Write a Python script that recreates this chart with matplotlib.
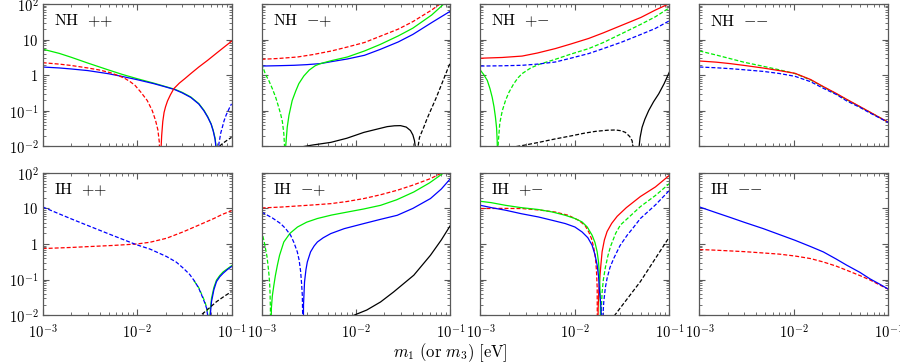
import matplotlib
matplotlib.use("Agg")
import matplotlib.pyplot as plt
from matplotlib.ticker import FixedLocator, LogLocator, NullFormatter

# ================= Data =================
# every curve: x = m_1 (or m_3) in eV, y = |value|; DIP marks a zero crossing
DIP = 1e-4

# ---- NH ++ ----
NH_PP_GREEN_X = [0.001, 0.0015, 0.002, 0.003, 0.005, 0.007, 0.01, 0.015, 0.02, 0.025, 0.03,
                 0.037, 0.045, 0.051, 0.056, 0.0608, 0.064, 0.067, 0.069, 0.0706]
NH_PP_GREEN_Y = [5.4, 4.1, 3.2, 2.2, 1.4, 1.05, 0.8, 0.6, 0.48, 0.405, 0.33,
                 0.245, 0.16, 0.104, 0.068, 0.043, 0.028, 0.017, 0.008, DIP]
NH_PP_BLUE_X = [0.001, 0.0015, 0.002, 0.003, 0.005, 0.007, 0.01, 0.015, 0.02, 0.025, 0.03,
                0.037, 0.045, 0.051, 0.056, 0.0608, 0.064, 0.067, 0.069, 0.0706]
NH_PP_BLUE_Y = [1.7, 1.6, 1.5, 1.35, 1.1, 0.92, 0.75, 0.58, 0.47, 0.395, 0.32,
                0.238, 0.155, 0.1, 0.066, 0.042, 0.027, 0.0155, 0.0078, DIP]
NH_PP_RED_D_X = [0.001, 0.0015, 0.002, 0.003, 0.004, 0.0052, 0.0065, 0.0075, 0.0085, 0.0095,
                 0.011, 0.0128, 0.0145, 0.0157, 0.0166, 0.0172, 0.0176]
NH_PP_RED_D_Y = [2.25, 2.05, 1.88, 1.6, 1.4, 1.18, 0.95, 0.8, 0.65, 0.52,
                 0.33, 0.195, 0.1, 0.053, 0.029, 0.013, DIP]
NH_PP_RED_S_X = [0.0177, 0.0179, 0.0182, 0.0187, 0.0193, 0.02, 0.021, 0.0225, 0.0245, 0.028,
                 0.032, 0.037, 0.045, 0.0556, 0.07, 0.085, 0.1]
NH_PP_RED_S_Y = [DIP, 0.008, 0.02, 0.05, 0.09, 0.13, 0.19, 0.28, 0.42, 0.6,
                 0.8, 1.11, 1.7, 2.6, 4.25, 6.4, 9.0]
NH_PP_BLUE_D_X = [0.0706, 0.0715, 0.0735, 0.0769, 0.08, 0.0834, 0.088, 0.092, 0.096, 0.1]
NH_PP_BLUE_D_Y = [DIP, 0.005, 0.012, 0.024, 0.035, 0.053, 0.078, 0.1, 0.128, 0.157]
NH_PP_BLACK_D_X = [0.066, 0.072, 0.08, 0.09, 0.1]
NH_PP_BLACK_D_Y = [0.005, 0.0093, 0.012, 0.015, 0.018]

# ---- NH -+ ----
NH_MP_RED_D_X = [0.001, 0.0015, 0.0024, 0.0035, 0.0055, 0.0081, 0.0123, 0.018, 0.028, 0.04,
                 0.0632, 0.0774]
NH_MP_RED_D_Y = [2.8, 2.95, 3.25, 3.8, 4.8, 6.2, 8.3, 12.4, 19.7, 32, 67.7, 100]
NH_MP_BLUE_X = [0.001, 0.0015, 0.0022, 0.003, 0.0042, 0.0055, 0.0081, 0.0123, 0.018, 0.028,
                0.04, 0.0632, 0.08, 0.1]
NH_MP_BLUE_Y = [1.81, 1.85, 1.9, 1.98, 2.12, 2.41, 2.86, 3.63, 5.3, 8.6,
                14, 30, 44, 63]
NH_MP_GREEN_D_X = [0.001, 0.00105, 0.0011, 0.00119, 0.0013, 0.00141, 0.0015, 0.00159,
                   0.00166, 0.00172, 0.00175, 0.001774]
NH_MP_GREEN_D_Y = [2.1, 1.5, 1.05, 0.72, 0.42, 0.24, 0.14, 0.082, 0.05, 0.023, 0.01, DIP]
NH_MP_GREEN_S_X = [0.001774, 0.0018, 0.00187, 0.00195, 0.00211, 0.0023, 0.00248, 0.0028,
                   0.0032, 0.0037, 0.0042, 0.0055, 0.0081, 0.0123, 0.018, 0.028, 0.04,
                   0.0632, 0.085]
NH_MP_GREEN_S_Y = [DIP, 0.01, 0.035, 0.075, 0.195, 0.36, 0.58, 0.95,
                   1.4, 1.85, 2.12, 2.57, 3.25, 4.8, 7.3, 12.7, 21,
                   49, 100]
NH_MP_BLACK_S_X = [0.002, 0.0024, 0.0035, 0.0054, 0.008, 0.0121, 0.017, 0.0214, 0.0255,
                   0.0296, 0.034, 0.0377, 0.04, 0.0416, 0.0428, 0.0438]
NH_MP_BLACK_S_Y = [0.008, 0.0093, 0.011, 0.013, 0.017, 0.0248, 0.031, 0.036, 0.038,
                   0.0384, 0.035, 0.028, 0.021, 0.0145, 0.008, DIP]
NH_MP_BLACK_D_X = [0.0438, 0.0448, 0.047, 0.0521, 0.0565, 0.0614, 0.07, 0.0783, 0.088, 0.1]
NH_MP_BLACK_D_Y = [DIP, 0.008, 0.018, 0.0344, 0.06, 0.1, 0.22, 0.46, 1.0, 2.35]

# ---- NH +- ----
NH_PM_RED_X = [0.001, 0.0017, 0.00276, 0.004, 0.0062, 0.009, 0.014, 0.02, 0.0316, 0.05,
               0.0711, 0.098]
NH_PM_RED_Y = [3.0, 3.15, 3.45, 4.2, 5.6, 7.5, 10.8, 15.5, 25.5, 42, 67.7, 100]
NH_PM_BLUE_D_X = [0.001, 0.0017, 0.00276, 0.004, 0.0062, 0.009, 0.014, 0.02, 0.0316, 0.05,
                  0.0711, 0.1]
NH_PM_BLUE_D_Y = [1.81, 1.84, 1.9, 2.05, 2.35, 3.0, 4.06, 5.6, 8.6, 14, 20.6, 33.8]
NH_PM_GREEN_S_X = [0.001, 0.00108, 0.00118, 0.00126, 0.00133, 0.00139, 0.00144, 0.00148,
                   0.0015, 0.00151, 0.00152]
NH_PM_GREEN_S_Y = [1.37, 1.05, 0.716, 0.42, 0.24, 0.13, 0.066, 0.033, 0.016, 0.008, DIP]
NH_PM_GREEN_D_X = [0.00152, 0.00154, 0.0016, 0.0017, 0.00184, 0.002, 0.00225, 0.0025,
                   0.00276, 0.0034, 0.00414, 0.0062, 0.009, 0.014, 0.02, 0.0316, 0.05,
                   0.0711, 0.098]
NH_PM_GREEN_D_Y = [DIP, 0.012, 0.045, 0.1, 0.195, 0.33, 0.577, 0.85,
                   1.11, 1.6, 2.0, 2.8, 3.9, 5.6, 8.3, 14.9, 27,
                   43.8, 75.7]
NH_PM_BLACK_D_X = [0.00207, 0.003, 0.00414, 0.006, 0.0093, 0.0125, 0.0165, 0.022, 0.0269,
                   0.031, 0.0342, 0.038, 0.0403, 0.0415, 0.0427]
NH_PM_BLACK_D_Y = [0.0093, 0.011, 0.013, 0.016, 0.02, 0.0235, 0.0265, 0.0285, 0.029,
                   0.0275, 0.0248, 0.019, 0.0145, 0.009, DIP]
NH_PM_BLACK_S_X = [0.0467, 0.0478, 0.049, 0.0514, 0.055, 0.0604, 0.068, 0.0771, 0.088, 0.1]
NH_PM_BLACK_S_Y = [DIP, 0.01, 0.018, 0.0344, 0.058, 0.102, 0.18, 0.30, 0.58, 1.23]

# ---- NH -- ----
NH_MM_X = [0.001, 0.0015, 0.00211, 0.003, 0.00475, 0.007, 0.0103, 0.015, 0.0205, 0.028,
           0.0363, 0.05, 0.064, 0.08, 0.1]
NH_MM_GREEN_D_Y = [4.8, 3.7, 2.93, 2.3, 1.78, 1.42, 1.11, 0.74, 0.47, 0.3,
                   0.205, 0.13, 0.091, 0.066, 0.0476]
NH_MM_RED_Y = [2.51, 2.33, 2.12, 1.88, 1.59, 1.35, 1.13, 0.76, 0.48, 0.31,
               0.21, 0.132, 0.092, 0.066, 0.048]
NH_MM_BLUE_D_Y = [1.7, 1.62, 1.53, 1.42, 1.28, 1.12, 0.93, 0.66, 0.43, 0.29,
                  0.19, 0.125, 0.087, 0.064, 0.047]

# ---- IH ++ ----
IH_PP_BLUE_D_X = [0.001, 0.0015, 0.002, 0.0027, 0.0037, 0.0052, 0.007, 0.0099, 0.0137,
                  0.0205, 0.026, 0.0308, 0.036, 0.0409, 0.045, 0.0482, 0.0515, 0.0544,
                  0.0565, 0.058]
IH_PP_BLUE_D_Y = [11, 7.0, 5.1, 3.7, 2.65, 1.85, 1.36, 0.95, 0.72,
                  0.445, 0.31, 0.21, 0.14, 0.088, 0.057, 0.037, 0.024, 0.0158,
                  0.008, DIP]
IH_PP_GREEN_D_X = [0.04, 0.045, 0.0482, 0.0515, 0.0544, 0.0563, 0.0575]
IH_PP_GREEN_D_Y = [0.093, 0.059, 0.039, 0.026, 0.017, 0.009, DIP]
IH_PP_GREEN_S_X = [0.0577, 0.0587, 0.0598, 0.0614, 0.065, 0.0693, 0.075, 0.0815, 0.09, 0.1]
IH_PP_GREEN_S_Y = [DIP, 0.008, 0.016, 0.03, 0.06, 0.097, 0.13, 0.165, 0.2, 0.245]
IH_PP_BLUE_S_X = [0.058, 0.059, 0.0602, 0.0614, 0.065, 0.0693, 0.075, 0.0815, 0.09, 0.1]
IH_PP_BLUE_S_Y = [DIP, 0.007, 0.014, 0.0242, 0.052, 0.088, 0.12, 0.151, 0.19, 0.233]
IH_PP_RED_D_X = [0.001, 0.002, 0.0035, 0.0055, 0.0099, 0.0137, 0.0205, 0.0308, 0.0462,
                 0.065, 0.08, 0.1]
IH_PP_RED_D_Y = [0.745, 0.8, 0.86, 0.91, 1.0, 1.12, 1.45, 2.2, 3.5, 5.2, 6.8, 8.6]
IH_PP_BLACK_D_X = [0.04, 0.0462, 0.055, 0.0693, 0.085, 0.1]
IH_PP_BLACK_D_Y = [0.006, 0.0095, 0.014, 0.024, 0.035, 0.046]

# ---- IH -+ ----
IH_MP_RED_D_X = [0.001, 0.0016, 0.0024, 0.0035, 0.0054, 0.008, 0.0121, 0.018, 0.0273,
                 0.04, 0.0614, 0.0817]
IH_MP_RED_D_Y = [10.3, 10.9, 11.7, 12.5, 13.6, 15.6, 18.9, 24, 32.3, 45, 68.7, 100]
IH_MP_GREEN_D_X = [0.001, 0.00103, 0.00107, 0.0011, 0.00114, 0.00117, 0.0012, 0.00122,
                   0.00123, 0.00124, 0.001245]
IH_MP_GREEN_D_Y = [2.43, 1.7, 1.1, 0.745, 0.45, 0.254, 0.13, 0.07, 0.04, 0.015, DIP]
IH_MP_GREEN_S_X = [0.001245, 0.00127, 0.0013, 0.00135, 0.0014, 0.00147, 0.00155, 0.00172,
                   0.002, 0.0024, 0.003, 0.0039, 0.0055, 0.0081, 0.012, 0.0182, 0.027,
                   0.0409, 0.06, 0.085]
IH_MP_GREEN_S_Y = [DIP, 0.016, 0.035, 0.07, 0.13, 0.254, 0.48, 1.14,
                   2.0, 3.0, 4.1, 5.2, 6.5, 7.9, 9.6, 12.2, 17.5,
                   28.9, 52, 100]
IH_MP_BLUE_D_X = [0.001, 0.0013, 0.00159, 0.0018, 0.00203, 0.0022, 0.00239, 0.0025,
                  0.00259, 0.00265, 0.0027, 0.00272, 0.00273]
IH_MP_BLUE_D_Y = [7.9, 5.4, 3.75, 2.7, 1.76, 1.1, 0.6, 0.35,
                  0.17, 0.08, 0.036, 0.012, DIP]
IH_MP_BLUE_S_X = [0.00275, 0.00278, 0.00285, 0.00295, 0.00305, 0.0033, 0.0036, 0.0039,
                  0.0045, 0.0054, 0.0075, 0.0121, 0.018, 0.0273, 0.04, 0.0614, 0.08, 0.1]
IH_MP_BLUE_S_Y = [DIP, 0.02, 0.086, 0.19, 0.313, 0.6, 0.88, 1.14,
                  1.5, 1.96, 2.7, 3.75, 4.9, 6.4, 10, 18.9, 35, 68.7]
IH_MP_BLACK_X = [0.0095, 0.013, 0.0182, 0.025, 0.0409, 0.0614, 0.08, 0.1]
IH_MP_BLACK_Y = [0.01, 0.014, 0.0236, 0.045, 0.133, 0.483, 1.3, 3.36]

# ---- IH +- ----
IH_PM_GREEN_S_X = [0.001, 0.0013, 0.00184, 0.0027, 0.0041, 0.0058, 0.0079, 0.01, 0.0119,
                   0.0135, 0.0152, 0.0163, 0.0172, 0.0178, 0.01816, 0.0184, 0.0186, 0.0187]
IH_PM_GREEN_S_Y = [15.8, 14.5, 12.2, 10.5, 9.3, 7.9, 6.4, 5.2, 4.16,
                   3.0, 1.76, 1.1, 0.6, 0.3, 0.133, 0.06, 0.02, DIP]
IH_PM_GREEN_D_X = [0.0187, 0.0189, 0.0194, 0.02, 0.021, 0.0224, 0.0238, 0.027, 0.0303,
                   0.036, 0.0493, 0.0711, 0.1]
IH_PM_GREEN_D_Y = [DIP, 0.01, 0.045, 0.1, 0.22, 0.48, 0.85, 2.0, 3.42,
                   5.2, 11.2, 23, 49.8]
IH_PM_RED_D_X = [0.001, 0.0017, 0.00276, 0.0042, 0.0062, 0.0085, 0.011, 0.0128, 0.014,
                 0.015, 0.0158, 0.0165, 0.0169, 0.0172, 0.01735]
IH_PM_RED_D_Y = [9.9, 10.0, 9.9, 9.0, 7.9, 6.4, 4.6, 3.3, 2.18,
                 1.4, 0.8, 0.4, 0.18, 0.06, DIP]
IH_PM_RED_S_X = [0.0174, 0.0176, 0.0179, 0.01832, 0.0188, 0.0194, 0.0205, 0.0219, 0.0245,
                 0.028, 0.035, 0.0493, 0.0711, 0.1]
IH_PM_RED_S_Y = [DIP, 0.015, 0.05, 0.109, 0.25, 0.61, 1.3, 2.24, 3.8,
                 6.0, 10.5, 21.5, 40, 85]
IH_PM_BLUE_S_X = [0.001, 0.00135, 0.00184, 0.0027, 0.0041, 0.0058, 0.0079, 0.01, 0.0119,
                  0.0137, 0.0152, 0.0163, 0.0172, 0.0178, 0.01816, 0.0188, 0.0192, 0.0193]
IH_PM_BLUE_S_Y = [12.2, 10.3, 8.9, 7.1, 5.75, 4.6, 3.75, 3.0, 2.18,
                  1.5, 0.92, 0.5, 0.254, 0.12, 0.05, 0.02, 0.006, DIP]
IH_PM_BLUE_D_X = [0.0195, 0.0197, 0.0202, 0.021, 0.0219, 0.0235, 0.0258, 0.03, 0.0357,
                  0.042, 0.0493, 0.0711, 0.1]
IH_PM_BLUE_D_Y = [DIP, 0.008, 0.024, 0.06, 0.109, 0.22, 0.398, 0.9, 1.76,
                  3.0, 5.2, 12.5, 32]
IH_PM_BLACK_D_X = [0.026, 0.0493, 0.1]
IH_PM_BLACK_D_Y = [0.0095, 0.088, 1.58]

# ---- IH -- ----
IH_MM_X = [0.001, 0.0015, 0.00211, 0.003, 0.00475, 0.007, 0.0103, 0.015, 0.0205, 0.028,
           0.0363, 0.05, 0.064, 0.08, 0.1]
IH_MM_BLUE_Y = [11, 7.6, 5.6, 4.05, 2.7, 1.85, 1.27, 0.85, 0.6, 0.38,
                0.254, 0.16, 0.105, 0.076, 0.054]
IH_MM_RED_D_Y = [0.7, 0.67, 0.64, 0.61, 0.56, 0.52, 0.46, 0.39, 0.313, 0.24,
                 0.183, 0.13, 0.098, 0.072, 0.054]

PANEL_TITLES = [
    [r"$\mathrm{NH}\ \ {+}{+}$", r"$\mathrm{NH}\ \ {-}{+}$",
     r"$\mathrm{NH}\ \ {+}{-}$", r"$\mathrm{NH}\ \ {-}{-}$"],
    [r"$\mathrm{IH}\ \ {+}{+}$", r"$\mathrm{IH}\ \ {-}{+}$",
     r"$\mathrm{IH}\ \ {+}{-}$", r"$\mathrm{IH}\ \ {-}{-}$"],
]
Y_TICKS = [1e-2, 1e-1, 1, 10, 100]
Y_TICK_LABELS = [r"$10^{-2}$", r"$10^{-1}$", r"$1$", r"$10$", r"$10^{2}$"]
X_TICKS = [1e-3, 1e-2, 1e-1]
X_TICK_LABELS = [r"$10^{-3}$", r"$10^{-2}$", r"$10^{-1}$"]
# =================================================================

RED, GREEN, BLUE, BLACK = "#ff0000", "#00ee00", "#0000ff", "#000000"
SOLID = "-"
DASHED = (0, (3.2, 1.6))

# (x, y, colour, linestyle) for every curve of every panel
PANELS = [
    [
        [(NH_PP_GREEN_X, NH_PP_GREEN_Y, GREEN, SOLID),
         (NH_PP_BLUE_X, NH_PP_BLUE_Y, BLUE, SOLID),
         (NH_PP_RED_D_X, NH_PP_RED_D_Y, RED, DASHED),
         (NH_PP_RED_S_X, NH_PP_RED_S_Y, RED, SOLID),
         (NH_PP_BLACK_D_X, NH_PP_BLACK_D_Y, BLACK, DASHED),
         (NH_PP_BLUE_D_X, NH_PP_BLUE_D_Y, BLUE, DASHED)],
        [(NH_MP_RED_D_X, NH_MP_RED_D_Y, RED, DASHED),
         (NH_MP_BLUE_X, NH_MP_BLUE_Y, BLUE, SOLID),
         (NH_MP_GREEN_D_X, NH_MP_GREEN_D_Y, GREEN, DASHED),
         (NH_MP_GREEN_S_X, NH_MP_GREEN_S_Y, GREEN, SOLID),
         (NH_MP_BLACK_S_X, NH_MP_BLACK_S_Y, BLACK, SOLID),
         (NH_MP_BLACK_D_X, NH_MP_BLACK_D_Y, BLACK, DASHED)],
        [(NH_PM_RED_X, NH_PM_RED_Y, RED, SOLID),
         (NH_PM_GREEN_S_X, NH_PM_GREEN_S_Y, GREEN, SOLID),
         (NH_PM_GREEN_D_X, NH_PM_GREEN_D_Y, GREEN, DASHED),
         (NH_PM_BLUE_D_X, NH_PM_BLUE_D_Y, BLUE, DASHED),
         (NH_PM_BLACK_D_X, NH_PM_BLACK_D_Y, BLACK, DASHED),
         (NH_PM_BLACK_S_X, NH_PM_BLACK_S_Y, BLACK, SOLID)],
        [(NH_MM_X, NH_MM_GREEN_D_Y, GREEN, DASHED),
         (NH_MM_X, NH_MM_RED_Y, RED, SOLID),
         (NH_MM_X, NH_MM_BLUE_D_Y, BLUE, DASHED)],
    ],
    [
        [(IH_PP_RED_D_X, IH_PP_RED_D_Y, RED, DASHED),
         (IH_PP_GREEN_D_X, IH_PP_GREEN_D_Y, GREEN, DASHED),
         (IH_PP_GREEN_S_X, IH_PP_GREEN_S_Y, GREEN, SOLID),
         (IH_PP_BLUE_D_X, IH_PP_BLUE_D_Y, BLUE, DASHED),
         (IH_PP_BLUE_S_X, IH_PP_BLUE_S_Y, BLUE, SOLID),
         (IH_PP_BLACK_D_X, IH_PP_BLACK_D_Y, BLACK, DASHED)],
        [(IH_MP_RED_D_X, IH_MP_RED_D_Y, RED, DASHED),
         (IH_MP_GREEN_D_X, IH_MP_GREEN_D_Y, GREEN, DASHED),
         (IH_MP_GREEN_S_X, IH_MP_GREEN_S_Y, GREEN, SOLID),
         (IH_MP_BLUE_D_X, IH_MP_BLUE_D_Y, BLUE, DASHED),
         (IH_MP_BLUE_S_X, IH_MP_BLUE_S_Y, BLUE, SOLID),
         (IH_MP_BLACK_X, IH_MP_BLACK_Y, BLACK, SOLID)],
        [(IH_PM_RED_D_X, IH_PM_RED_D_Y, RED, DASHED),
         (IH_PM_RED_S_X, IH_PM_RED_S_Y, RED, SOLID),
         (IH_PM_GREEN_S_X, IH_PM_GREEN_S_Y, GREEN, SOLID),
         (IH_PM_GREEN_D_X, IH_PM_GREEN_D_Y, GREEN, DASHED),
         (IH_PM_BLUE_S_X, IH_PM_BLUE_S_Y, BLUE, SOLID),
         (IH_PM_BLUE_D_X, IH_PM_BLUE_D_Y, BLUE, DASHED),
         (IH_PM_BLACK_D_X, IH_PM_BLACK_D_Y, BLACK, DASHED)],
        [(IH_MM_X, IH_MM_RED_D_Y, RED, DASHED),
         (IH_MM_X, IH_MM_BLUE_Y, BLUE, SOLID)],
    ],
]


def make_figure():
    plt.rcParams["mathtext.fontset"] = "cm"
    plt.rcParams["font.family"] = "serif"
    plt.rcParams["font.serif"] = ["cmr10", "DejaVu Serif"]
    plt.rcParams["axes.unicode_minus"] = False

    fig, axes = plt.subplots(2, 4, figsize=(9.0, 3.64), dpi=100)
    fig.subplots_adjust(left=0.0474, right=0.987, top=0.989, bottom=0.134,
                        wspace=0.159, hspace=0.185)

    for r in range(2):
        for c in range(4):
            ax = axes[r][c]
            for x, y, color, ls in PANELS[r][c]:
                ax.plot(x, y, color=color, linestyle=ls, linewidth=0.9)

            ax.set_xscale("log")
            ax.set_yscale("log")
            ax.set_xlim(1e-3, 1e-1)
            ax.set_ylim(1e-2, 1e2)

            ax.xaxis.set_major_locator(FixedLocator(X_TICKS))
            ax.yaxis.set_major_locator(FixedLocator(Y_TICKS))
            ax.xaxis.set_minor_locator(LogLocator(base=10, subs=range(2, 10)))
            ax.yaxis.set_minor_locator(LogLocator(base=10, subs=range(2, 10)))
            ax.xaxis.set_minor_formatter(NullFormatter())
            ax.yaxis.set_minor_formatter(NullFormatter())

            if r == 1:
                ax.set_xticklabels(X_TICK_LABELS)
            else:
                ax.set_xticklabels([])
            if c == 0:
                ax.set_yticklabels(Y_TICK_LABELS)
            else:
                ax.set_yticklabels([])

            ax.tick_params(which="both", direction="in", top=True, right=True,
                           color="0.35", labelsize=10.5, pad=3)
            ax.tick_params(axis="x", which="major", pad=5.5)
            ax.tick_params(which="major", length=4.5, width=0.8)
            ax.tick_params(which="minor", length=2.5, width=0.6)
            for sp in ax.spines.values():
                sp.set_color("0.35")
                sp.set_linewidth(0.9)

            ax.text(0.058, 0.88, PANEL_TITLES[r][c], transform=ax.transAxes,
                    fontsize=11.5, va="center", ha="left")

    fig.text(0.5, 0.03, r"$m_1\ \mathrm{(or}\ m_3\mathrm{)\ [eV]}$",
             ha="center", va="center", fontsize=12)
    fig.savefig("out.png", dpi=100)


if __name__ == "__main__":
    make_figure()
